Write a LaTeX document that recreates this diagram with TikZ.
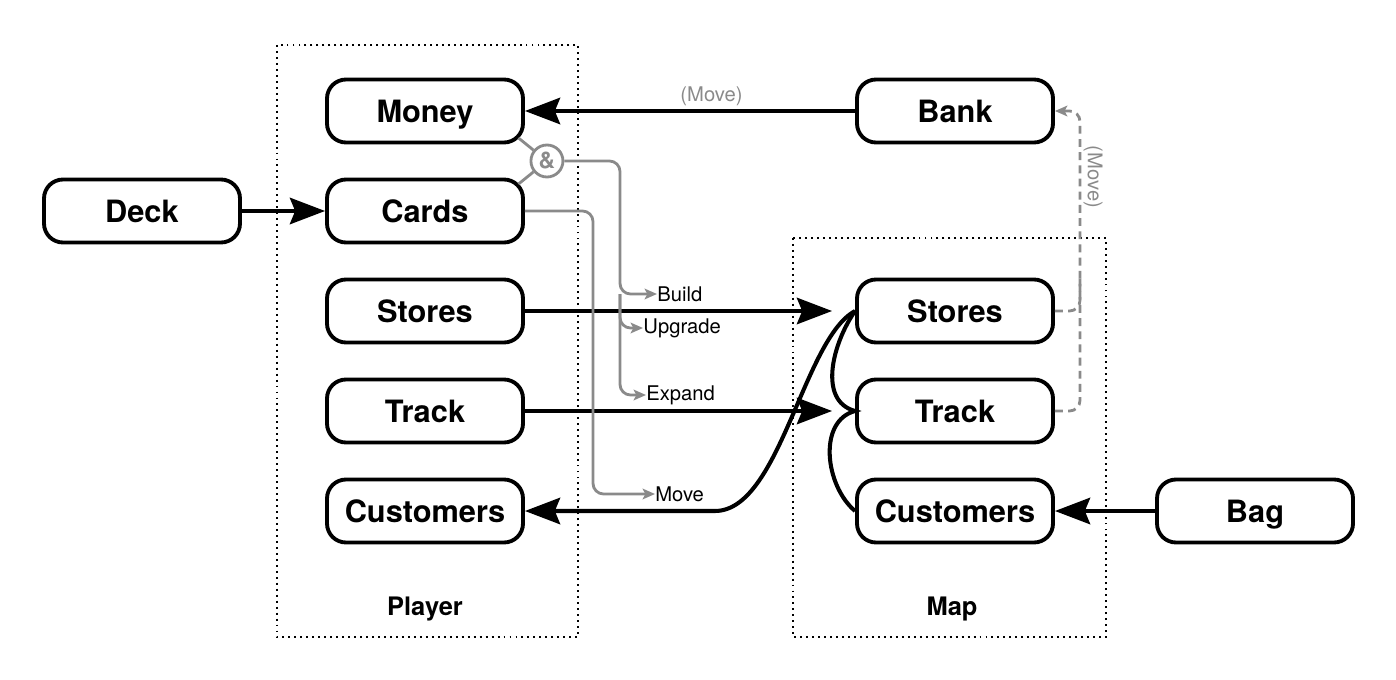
\documentclass[tikz,border=0pt]{standalone}
\usepackage{fontspec}
\setmainfont{TeX Gyre Heros}
\usetikzlibrary{arrows.meta,positioning,calc}
\definecolor{flowgray}{HTML}{8A8A8A}
\tikzset{%
  % Specifications for style of nodes:
            base/.style = {rectangle, rounded corners=0.38cm, draw=black, line width=2.2pt,
                           minimum width=3.92cm, minimum height=1.26cm,
                           text height=12.6pt, text depth=0pt,
                           text centered, font=\fontsize{17.5}{20}\selectfont\bfseries},
         andnode/.style = {circle, draw=flowgray, line width=1.6pt, minimum size=0.64cm,
                           inner sep=0pt, text=flowgray, font=\fontsize{13}{15}\selectfont\bfseries},
             lbl/.style = {inner sep=0pt, anchor=west, font=\fontsize{11.5}{13}\selectfont},
             grp/.style = {draw=black, line width=1.1pt, dash pattern=on 1.1pt off 2.3pt},
          grplbl/.style = {font=\fontsize{14.5}{17}\selectfont\bfseries},
pil/.style={
           -{Stealth[length=20pt,width=15pt,inset=3pt]},
           line width=2.3pt},
gpil/.style={
           -{Stealth[length=7pt,width=6pt,inset=1.5pt]},
           draw=flowgray, line width=1.6pt, rounded corners=6pt},
gdash/.style={gpil, dash pattern=on 4.5pt off 3pt}
}
\begin{document}
\begin{tikzpicture}[node distance=2cm]
\useasboundingbox (0,0) rectangle (27.92,-13.6);

% player side
\node (money)   [base] at (8.5,-2.22) {Money};
\node (cards)   [base, below of=money] {Cards};
\node (pstores) [base, below of=cards] {Stores};
\node (ptrack)  [base, below of=pstores] {Track};
\node (pcust)   [base, below of=ptrack] {Customers};
\node (deck)    [base, left of=cards, xshift=-3.66cm] {Deck};

% map side
\node (bank)    [base, right of=money, xshift=8.6cm] {Bank};
\node (mstores) [base, below of=bank, yshift=-2cm] {Stores};
\node (mtrack)  [base, below of=mstores] {Track};
\node (mcust)   [base, below of=mtrack] {Customers};
\node (bag)     [base, right of=mcust, xshift=4cm] {Bag};

% groups
\draw[grp] (5.54,-0.9) rectangle (11.56,-12.74);
\draw[grp] (15.86,-4.76) rectangle (22.12,-12.74);
\node (player) [grplbl] at (8.5,-12.17) {Player};
\node (map)    [grplbl] at (19.04,-12.17) {Map};

% actions
\node (amp)      [andnode] at ($(money.east)!0.5!(cards.east)+(0.44,0)$) {\&};
\node (build)    [lbl] at (13.14,-5.88) {Build};
\node (upgrade)  [lbl] at (12.86,-6.56) {Upgrade};
\node (expand)   [lbl] at (12.92,-7.9) {Expand};
\node (move)     [lbl] at (13.1,-9.88) {Move};
\node (bankmove) [lbl, anchor=center, rotate=-90, text=flowgray] at (21.86,-3.54) {(Move)};

\coordinate (storetip) at ($(mstores.west)+(-0.46,0)$);
\coordinate (tracktip) at ($(mtrack.west)+(-0.46,0)$);
\coordinate (movebend) at ($(pcust.east)+(3.8,0)$);
\coordinate (moneycorner) at ($(money.south east)+(-0.13,0.13)$);
\coordinate (cardscorner) at ($(cards.north east)+(-0.13,-0.13)$);
\coordinate (buildx) at (12.4,0);
\coordinate (movex) at (11.86,0);
\coordinate (dashx) at (21.6,0);

% black arrows
\draw[pil] (deck) -- (cards);
\draw[pil] (bank) -- node[lbl, pos=0.435, anchor=south, yshift=2pt, text=flowgray] (moneymove) {(Move)} (money);
\draw[pil] (pstores) -- (storetip);
\draw[pil] (ptrack) -- (tracktip);
\draw[pil] (bag) -- (mcust);
\draw[pil] (mstores.west) .. controls +(-1.04,-0.56) and +(1.3,0) .. (movebend) -- (pcust);
\draw[line width=2.3pt] (mstores.west) to[out=235, in=165] (mtrack.west)
                                        to[out=195, in=140] (mcust.west);

% gray flows
\draw[gpil, -] (amp) -- (moneycorner);
\draw[gpil, -] (amp) -- (cardscorner);
\draw[gpil] (amp.east) -| (buildx |- build.west) -- (build.west);
\draw[gpil] (buildx |- build.west) |- (upgrade.west);
\draw[gpil] (buildx |- build.west) |- (expand.west);
\draw[gpil] (cards.east) -| (movex |- move.west) -- (move.west);
\draw[gdash] (mstores.east) -| (dashx |- bank.east) -- (bank.east);
\draw[gdash, -] (mtrack.east) -| (dashx |- mstores.north);

\end{tikzpicture}
\end{document}
